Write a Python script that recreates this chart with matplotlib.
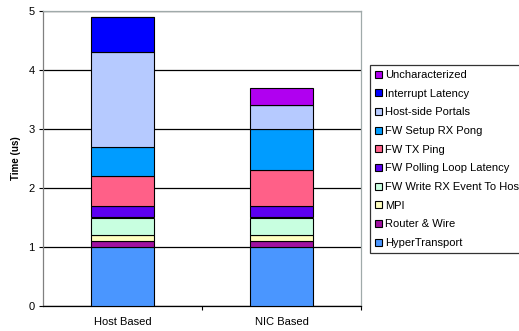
import numpy as np
import matplotlib
matplotlib.use("Agg")
import matplotlib.pyplot as plt
from matplotlib.ticker import FixedLocator

plt.rcParams['font.family'] = ['Liberation Sans', 'DejaVu Sans']

categories = ["Host Based", "NIC Based"]
components = ["HyperTransport", "Router & Wire", "MPI", "FW Write RX Event To Host",
              "FW Polling Loop Latency", "FW TX Ping", "FW Setup RX Pong",
              "Host-side Portals", "Interrupt Latency", "Uncharacterized"]
host_vals = [1.0, 0.1, 0.1, 0.3, 0.2, 0.5, 0.5, 1.6, 0.6, 0.0]
nic_vals = [1.0, 0.1, 0.1, 0.3, 0.2, 0.6, 0.7, 0.4, 0.0, 0.3]
colors = ["#4A96FF", "#A010A0", "#FFFFC0", "#C8FFE0", "#5C00F0",
          "#FF6088", "#009CFF", "#B6CAFF", "#0000FF", "#B000F0"]

fig = plt.figure(figsize=(5.19, 3.31), dpi=100)
ax = fig.add_axes([43 / 519, 1 - 306 / 331, 318 / 519, 295 / 331])

x = np.arange(len(categories))
bottom = np.zeros(len(categories))
handles = []
for name, h, n, c in zip(components, host_vals, nic_vals, colors):
    vals = np.array([h, n])
    b = ax.bar(x, vals, width=0.4, bottom=bottom, color=c, edgecolor="black",
               linewidth=0.8, label=name, zorder=3)
    handles.append(b)
    bottom += vals

ax.set_xlim(-0.5, 1.5)
ax.set_ylim(0, 5)
ax.set_yticks([0, 1, 2, 3, 4, 5])
ax.yaxis.grid(True, color="black", linewidth=0.9, zorder=0)
ax.set_axisbelow(True)
ax.set_xticks(x)
ax.set_xticklabels(categories, fontsize=8)
ax.xaxis.set_minor_locator(FixedLocator([0.5, 1.5]))
ax.tick_params(axis="x", which="major", length=0, pad=8)
ax.tick_params(axis="x", which="minor", length=3, width=0.8, direction="out")
ax.tick_params(axis="y", length=3, width=0.8, labelsize=8, pad=3)
ax.set_ylabel("Time (us)", fontsize=7, fontweight="bold", labelpad=5)

ax.spines["left"].set_color("#808080")
ax.spines["bottom"].set_color("black")
for s in ("top", "right"):
    ax.spines[s].set_color("#A0AAAA")
for s in ax.spines.values():
    s.set_linewidth(0.9)

# legend runs past the right edge, as in the original
leg = fig.legend(handles[::-1], components[::-1], loc="upper left",
                 bbox_to_anchor=(370 / 519, 1 - 65 / 331), fontsize=8,
                 frameon=True, fancybox=False, edgecolor="black",
                 handlelength=0.6, handleheight=0.6, handletextpad=0.3,
                 labelspacing=0.78, borderpad=0.45, borderaxespad=0)
leg.get_frame().set_linewidth(0.9)

fig.savefig("out.png", dpi=100)
